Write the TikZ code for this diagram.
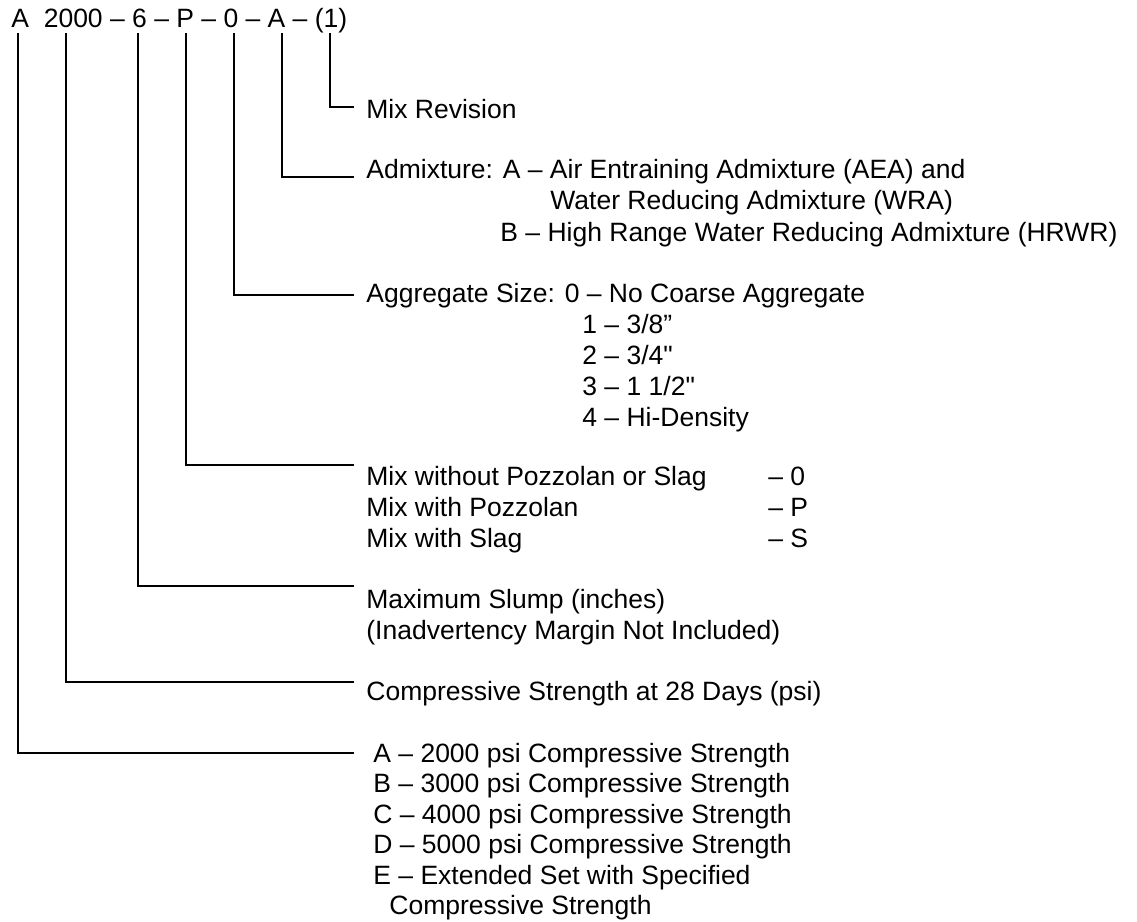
\documentclass[tikz,border=0pt]{standalone}
\usepackage{fontspec}
\setmainfont{Liberation Sans}[Ligatures=TeXOff]
\tikzset{
  lbl/.style={anchor=base west,inner sep=0pt,font=\fontsize{13.25pt}{15.3pt}\selectfont},
  lead/.style={line width=1pt}
}
\begin{document}
\begin{tikzpicture}[x=0.5pt,y=-0.5pt]
  \useasboundingbox (0,0) rectangle (1137,922);

  % mix designation
  \node[lbl] (code) at (11,27) {A\ \ 2000 – 6 – P – 0 – A – (1)};

  % leader tops under each part of the designation
  \foreach \x/\n in {18/tA, 66/tStr, 138/tSlp, 186/tPoz, 234/tAgg, 282/tAdm, 330/tRev}
    \coordinate (\n) at (\x,33);

  % leader ends, left of the descriptions
  \foreach \y/\n in {107/eRev, 177/eAdm, 295/eAgg, 465/ePoz, 586/eSlp, 682/eStr, 753/eA}
    \coordinate (\n) at (354,\y);

  % leaders
  \foreach \t/\e in {tRev/eRev, tAdm/eAdm, tAgg/eAgg, tPoz/ePoz, tSlp/eSlp, tStr/eStr, tA/eA}
    \draw[lead] (\t) |- (\e);

  % MIX REVISION
  \node[lbl] (rev) at (366,118) {Mix Revision};

  % ADMIXTURE
  \node[lbl] (adm) at (366,178) {Admixture: A – Air Entraining Admixture (AEA) and};
  \node[lbl] (admWra) at (550,209) {Water Reducing Admixture (WRA)};
  \node[lbl] (admB) at (500,241) {B – High Range Water Reducing Admixture (HRWR)};

  % AGGREGATE SIZE
  \node[lbl] (agg) at (366,302) {Aggregate Size: 0 – No Coarse Aggregate};
  \node[lbl] (agg1) at (582,333) {1 – 3/8”};
  \node[lbl] (agg2) at (582,364) {2 – 3/4"};
  \node[lbl] (agg3) at (582,395) {3 – 1 1/2"};
  \node[lbl] (agg4) at (582,426) {4 – Hi-Density};

  % POZZOLAN / SLAG
  \foreach \y/\t/\c [count=\i] in {485/Mix without Pozzolan or Slag/0, 516/Mix with Pozzolan/P, 547/Mix with Slag/S} {
    \node[lbl] (poz\i) at (366,\y) {\t};
    \node[lbl] (pozc\i) at (768,\y) {– \c};
  }

  % SLUMP
  \node[lbl] (slp1) at (366,608) {Maximum Slump (inches)};
  \node[lbl] (slp2) at (366,639) {(Inadvertency Margin Not Included)};

  % STRENGTH
  \node[lbl] (str) at (366,700) {Compressive Strength at 28 Days (psi)};

  % CLASS
  \foreach \y/\t [count=\i] in {762/A – 2000 psi Compressive Strength, 792.5/B – 3000 psi Compressive Strength, 823/C – 4000 psi Compressive Strength, 853.5/D – 5000 psi Compressive Strength, 884/E – Extended Set with Specified}
    \node[lbl] (cls\i) at (373,\y) {\t};
  \node[lbl] (cls6) at (389,914.5) {Compressive Strength};
\end{tikzpicture}
\end{document}
